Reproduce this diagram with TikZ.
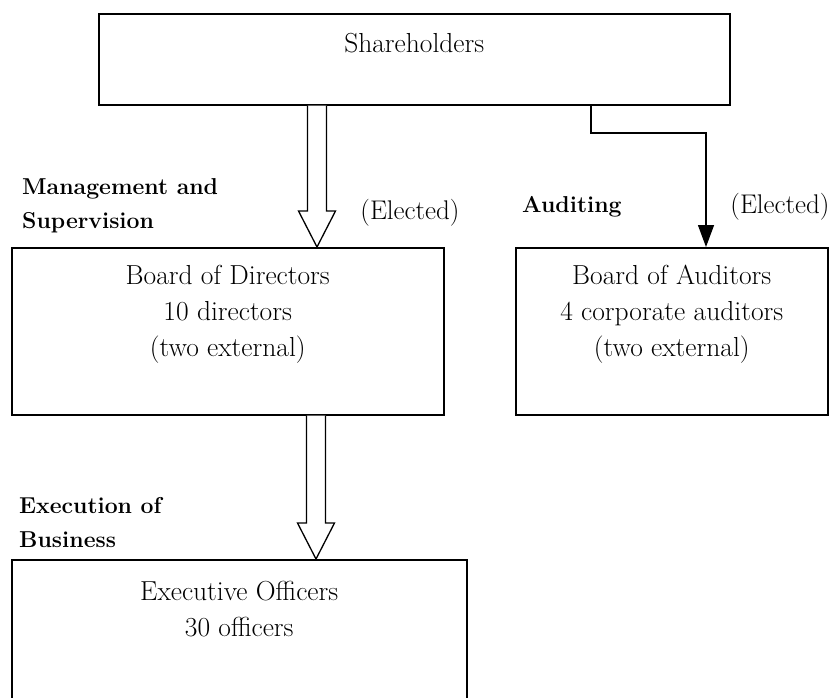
\documentclass[tikz,border=0pt]{standalone}
\usetikzlibrary{arrows.meta,calc}
\begin{document}
\begin{tikzpicture}[x=1pt,y=-1pt,
  box/.style={draw, line width=1.5pt, inner sep=0pt, anchor=north west},
  txt/.style={align=center, inner sep=0pt, font=\fontsize{27.5}{36}\selectfont},
  lbl/.style={align=left, inner sep=0pt, anchor=west, font=\fontsize{23}{34}\selectfont\bfseries},
  elec/.style={inner sep=0pt, font=\fontsize{27}{30}\selectfont},
  hollow/.style={draw, line width=1.3pt, fill=white, line join=miter},
  conn/.style={draw, line width=1.3pt, -{Triangle[length=22pt,width=16pt]}}
]
\useasboundingbox (0,0) rectangle (830,697);
\clip (0,0) rectangle (830,697);

% boxes
\node[box, minimum width=631pt, minimum height=91pt] (sh) at (98,13) {};
\node[box, minimum width=432pt, minimum height=167pt] (dir) at (11,247) {};
\node[box, minimum width=312pt, minimum height=167pt] (aud) at (515,247) {};
\node[box, minimum width=455pt, minimum height=190pt] (exe) at (11,559) {};

% box texts
\node[txt] (shT) at ($(sh.north)+(0,30)$) {Shareholders};
\node[txt] (dirT) at ($(dir.north)+(0,67)$) {Board of Directors\\10 directors\\(two external)};
\node[txt] (audT) at ($(aud.north)+(0,67)$) {Board of Auditors\\4 corporate auditors\\(two external)};
\node[txt] (exeT) at ($(exe.north)+(0,50)$) {Executive Officers\\30 officers};

% side labels
\node[lbl] (mgmt) at (22,206) {Management and\\Supervision};
\node[lbl] (exec) at (19,523) {Execution of\\Business};
\node[lbl] (audit) at (522,207) {Auditing};
\node[elec] (el1) at (410,213) {(Elected)};
\node[elec] (el2) at (780,207) {(Elected)};

% hollow arrows
\coordinate (t1) at (317,247);
\coordinate (t2) at (316,559);
\draw[hollow] ($(t1 |- sh.south)+(-9.5,0)$) -- ($(t1)+(-9.5,-36)$) -- ($(t1)+(-18.5,-36)$)
  -- (t1) -- ($(t1)+(18.5,-36)$) -- ($(t1)+(9.5,-36)$) -- ($(t1 |- sh.south)+(9.5,0)$);
\draw[hollow] ($(t2 |- dir.south)+(-9.5,0)$) -- ($(t2)+(-9.5,-36)$) -- ($(t2)+(-18.5,-36)$)
  -- (t2) -- ($(t2)+(18.5,-36)$) -- ($(t2)+(9.5,-36)$) -- ($(t2 |- dir.south)+(9.5,0)$);

% auditors connector
\coordinate (k1) at (591,133);
\coordinate (k2) at (706,133);
\draw[conn] (k1 |- sh.south) -- (k1) -- (k2) -- (k2 |- aud.north);
\end{tikzpicture}
\end{document}
